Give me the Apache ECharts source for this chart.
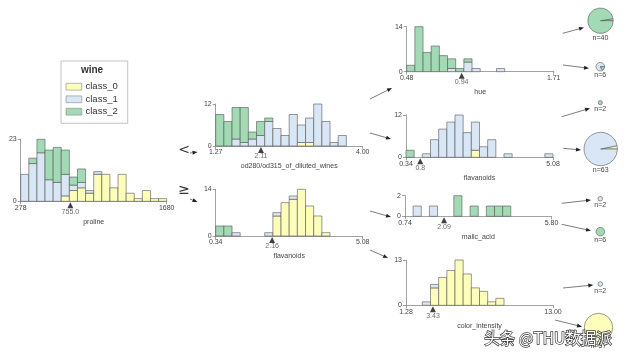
<!DOCTYPE html>
<html><head><meta charset="utf-8">
<script src="https://cdn.jsdelivr.net/npm/echarts@6/dist/echarts.min.js"></script>
<style>html,body{margin:0;padding:0;background:#fff}#c{width:624px;height:357px}</style>
</head><body><div id="c"></div>
<script>
// ---------- DATA ----------
const classNames = ['class_0', 'class_1', 'class_2'];
const legendTitle = 'wine';
const features = ['proline', 'od280/od315_of_diluted_wines', 'flavanoids', 'hue', 'flavanoids', 'malic_acid', 'color_intensity'];
const featureRanges = [[278, 1680], [1.27, 4.00], [0.34, 5.08], [0.48, 1.71], [0.34, 5.08], [0.74, 5.80], [1.28, 13.00]];
const rangeLabels = [['278', '1680'], ['1.27', '4.00'], ['0.34', '5.08'], ['0.48', '1.71'], ['0.34', '5.08'], ['0.74', '5.80'], ['1.28', '13.00']];
const splitValues = [755.0, 2.11, 2.16, 0.94, 0.8, 2.09, 3.43];
const splitLabels = ['755.0', '2.11', '2.16', '0.94', '0.8', '2.09', '3.43'];
const yMaxValues = [23, 12, 14, 14, 12, 2, 13];

// histogram counts per bin (18 bins), stacked class_0 / class_1 / class_2
const prolineC0 = [0,0,0,0,0,2,4,5,3,10,10,5,10,3,1,4,1,1];
const prolineC1 = [10,14,18,8,7,8,2,2,1,1,0,0,0,0,0,0,0,0];
const prolineC2 = [0,2,5,11,13,9,3,5,0,0,0,0,0,0,0,0,0,0];

const od280C0 = [0,0,0,0,0,0,0,0,0,0,1,1,0,0,0,0,0,0];
const od280C1 = [0,0,2,1,2,3,7,5,3,9,5,7,12,7,1,3,0,0];
const od280C2 = [9,7,9,10,2,4,1,0,0,0,0,0,0,0,0,0,0,0];

const flavRC0 = [0,0,0,0,0,0,0,6,10,11,14,9,6,1,0,0,0,0];
const flavRC1 = [0,0,1,0,0,0,1,1,0,1,0,0,0,0,0,0,0,0];
const flavRC2 = [3,3,0,0,0,0,0,0,0,0,0,0,0,0,0,0,0,0];

const hueC0 = [0,0,0,0,0,0,0,0,0,0,0,0,0,0,0,0,0,0];
const hueC1 = [0,0,0,0,0,1,0,3,1,0,0,1,0,0,0,0,0,0];
const hueC2 = [2,14,6,8,5,3,1,1,0,0,0,0,0,0,0,0,0,0];

const flavLC0 = [0,0,0,0,0,0,0,0,2,0,0,0,0,0,0,0,0,0];
const flavLC1 = [0,0,1,5,8,10,12,7,8,3,5,0,1,0,0,0,0,1];
const flavLC2 = [2,0,0,0,0,0,0,0,0,0,0,0,0,0,0,0,0,0];

const malicC0 = [0,0,0,0,0,0,0,0,0,0,0,0,0,0,0,0,0,0];
const malicC1 = [0,1,0,1,0,0,0,0,0,0,0,0,0,0,0,0,0,0];
const malicC2 = [0,0,0,0,0,0,2,0,1,0,1,1,1,0,0,0,0,0];

const colorC0 = [0,0,0,5,8,10,13,9,5,4,1,2,0,0,0,0,0,0];
const colorC1 = [0,0,1,1,0,0,0,0,0,0,0,0,0,0,0,0,0,0];
const colorC2 = [0,0,0,0,0,0,0,0,0,0,0,0,0,0,0,0,0,0];

const panelCounts = [
  [prolineC0, prolineC1, prolineC2],
  [od280C0, od280C1, od280C2],
  [flavRC0, flavRC1, flavRC2],
  [hueC0, hueC1, hueC2],
  [flavLC0, flavLC1, flavLC2],
  [malicC0, malicC1, malicC2],
  [colorC0, colorC1, colorC2]
];

// leaf class counts
const leafCounts = [[0,1,39],[0,5,1],[0,0,2],[2,61,0],[0,2,0],[0,0,6],[0,2,0],[57,0,0]];
const edgeLabels = ['<', '\u2265'];
const watermark = '头条 @THU数据派';

// ---------- LAYOUT / STYLE ----------
const classColors = ['#FEFEBB', '#D9E6F5', '#a1dab4'];
const FONT = '"Liberation Sans", Arial, sans-serif';
const TXT = '#444443';
const AX = '#8a8a8a';
// [left, top, width, height]
const panelBoxes = [
  [20.7, 139.3, 146, 62],
  [215.7, 104, 147, 42],
  [215.7, 189.3, 147, 46.7],
  [406.7, 26.7, 147, 45],
  [406, 115, 147, 42.3],
  [405, 195.7, 146.5, 20.6],
  [406, 260, 147, 45.3]
];
const leafCenters = [[600.5,20.7],[600.3,66.7],[600.3,102.7],[600.7,149],[600.3,198.7],[600.3,231.7],[600.3,284],[598.5,327.5]];
const leafRadii = [12.7, 4.3, 2.1, 16.7, 2.3, 4.3, 2.3, 14.2];
const arrows = [
  [190,153,197.5,152],[190,199,197.5,202],
  [370,99,392,88],[370,133,391,139],[370,211,391,217],[370,250,388,258],
  [562.7,33.3,584,27.5],[563,65,589,68.3],[561.7,116.7,590,108.3],[563.3,148.3,581,150],
  [561.7,203.3,591,200],[561.7,224.3,591,230.7],[563,288,593.3,285],[555,320,582,326.7]
];

// ---------- BUILD ----------
const chart = echarts.init(document.getElementById('c'), null, {renderer: 'canvas', width: 624, height: 357});

function histItems(i) {
  const [mn, mx] = featureRanges[i];
  const cs = panelCounts[i];
  const nb = cs[0].length;
  const w = (mx - mn) / nb;
  const items = [];
  for (let k = 0; k < nb; k++) {
    let base = 0;
    for (let c = 0; c < cs.length; c++) {
      const v = cs[c][k];
      if (v > 0) { items.push([mn + k * w, mn + (k + 1) * w, base, base + v, c]); base += v; }
    }
  }
  return items;
}

const grids = [], xAxes = [], yAxes = [], series = [];
features.forEach((f, i) => {
  const b = panelBoxes[i];
  const [mn, mx] = featureRanges[i];
  grids.push({left: b[0], top: b[1], width: b[2], height: b[3]});
  xAxes.push({
    gridIndex: i, type: 'value', min: mn, max: mx,
    name: f, nameLocation: 'middle', nameGap: 17,
    nameTextStyle: {fontSize: 7, color: TXT, fontFamily: FONT},
    axisLine: {show: true, onZero: false, lineStyle: {color: AX, width: 0.8}},
    axisTick: {show: true, length: 3, customValues: [mn, mx], lineStyle: {color: AX, width: 0.8}},
    axisLabel: {show: true, customValues: [mn, mx], showMinLabel: true, showMaxLabel: true, fontSize: 7, color: TXT, fontFamily: FONT, margin: 3,
      formatter: v => (Math.abs(v - mn) < 1e-9 ? rangeLabels[i][0] : rangeLabels[i][1])},
    splitLine: {show: false}
  });
  yAxes.push({
    gridIndex: i, type: 'value', min: 0, max: yMaxValues[i],
    axisLine: {show: true, lineStyle: {color: AX, width: 0.8}},
    axisTick: {show: true, length: 3, customValues: [0, yMaxValues[i]], lineStyle: {color: AX, width: 0.8}},
    axisLabel: {show: true, customValues: [0, yMaxValues[i]], showMinLabel: true, showMaxLabel: true, fontSize: 7, color: TXT, fontFamily: FONT, margin: 4},
    splitLine: {show: false}
  });
  series.push({
    type: 'custom', xAxisIndex: i, yAxisIndex: i, data: histItems(i),
    encode: {x: [0, 1], y: [2, 3]}, clip: false, silent: true,
    renderItem: (params, api) => {
      const p0 = api.coord([api.value(0), api.value(2)]);
      const p1 = api.coord([api.value(1), api.value(3)]);
      return {type: 'rect', shape: {x: p0[0], y: p1[1], width: p1[0] - p0[0], height: p0[1] - p1[1]},
        style: {fill: classColors[api.value(4)], stroke: '#555', lineWidth: 0.6}};
    }
  });
  series.push({
    type: 'scatter', xAxisIndex: i, yAxisIndex: i, data: [[splitValues[i], 0]],
    symbol: 'triangle', symbolSize: [6, 6], symbolOffset: [0, 4], clip: false, silent: true, z: 5,
    itemStyle: {color: '#111'},
    label: {show: true, position: 'bottom', distance: 0, formatter: splitLabels[i], fontSize: 7, color: TXT, fontFamily: FONT}
  });
});

leafCounts.forEach((lc, j) => {
  series.push({
    type: 'pie', center: leafCenters[j], radius: leafRadii[j], startAngle: 0, clockwise: false, silent: true,
    label: {show: false}, labelLine: {show: false}, animation: false,
    itemStyle: {borderColor: '#555', borderWidth: 0.6},
    data: lc.map((v, c) => ({value: v, name: classNames[c], itemStyle: {color: classColors[c]}})).filter(d => d.value > 0)
  });
});

const graphics = [];
// legend box
graphics.push({type: 'rect', shape: {x: 61, y: 61, width: 66.7, height: 62.3}, style: {fill: '#fff', stroke: '#b5b5b5', lineWidth: 0.8}});
graphics.push({type: 'text', x: 92, y: 70.7, style: {text: legendTitle, fontSize: 10, fontWeight: 'bold', fill: '#333', fontFamily: FONT, textAlign: 'center', textVerticalAlign: 'middle'}});
const legendY = [86.7, 99.3, 111.7];
classNames.forEach((n, c) => {
  graphics.push({type: 'rect', shape: {x: 66, y: legendY[c] - 3.4, width: 15.7, height: 6.8}, style: {fill: classColors[c], stroke: '#888', lineWidth: 0.6}});
  graphics.push({type: 'text', x: 85.5, y: legendY[c], style: {text: n, fontSize: 9.5, fill: '#333', fontFamily: FONT, textVerticalAlign: 'middle'}});
});
// edge labels
graphics.push({type: 'text', x: 184, y: 150, style: {text: edgeLabels[0], fontSize: 14, fill: '#333', fontFamily: '"DejaVu Sans", sans-serif', textAlign: 'center', textVerticalAlign: 'middle'}});
graphics.push({type: 'text', x: 184, y: 190, style: {text: edgeLabels[1], fontSize: 14, fill: '#333', fontFamily: '"DejaVu Sans", sans-serif', textAlign: 'center', textVerticalAlign: 'middle'}});
// arrows
arrows.forEach(a => {
  const [x0, y0, x1, y1] = a;
  const dx = x1 - x0, dy = y1 - y0, L = Math.hypot(dx, dy), ux = dx / L, uy = dy / L;
  const hl = 5, hw = 2;
  const bx = x1 - ux * hl, by = y1 - uy * hl;
  graphics.push({type: 'line', shape: {x1: x0, y1: y0, x2: bx, y2: by}, style: {stroke: '#444', lineWidth: 0.7}});
  graphics.push({type: 'polygon', shape: {points: [[x1, y1], [bx - uy * hw, by + ux * hw], [bx + uy * hw, by - ux * hw]]}, style: {fill: '#222'}});
});
// leaf n labels
leafCounts.forEach((lc, j) => {
  const n = lc.reduce((s, v) => s + v, 0);
  graphics.push({type: 'text', x: leafCenters[j][0], y: leafCenters[j][1] + leafRadii[j] + 4.5,
    style: {text: 'n=' + n, fontSize: 7, fill: TXT, fontFamily: FONT, textAlign: 'center', textVerticalAlign: 'middle'}});
});
// watermark
graphics.push({type: 'text', x: 548, y: 338, z: 100, style: {text: watermark, fontSize: 15.5, fill: '#fff', stroke: '#3a3a3a', lineWidth: 1.4,
  fontFamily: '"Noto Sans CJK SC", sans-serif', textAlign: 'center', textVerticalAlign: 'middle'}});

chart.setOption({
  animation: false,
  backgroundColor: '#fff',
  grid: grids, xAxis: xAxes, yAxis: yAxes, series: series,
  graphic: {elements: graphics}
});
</script></body></html>
